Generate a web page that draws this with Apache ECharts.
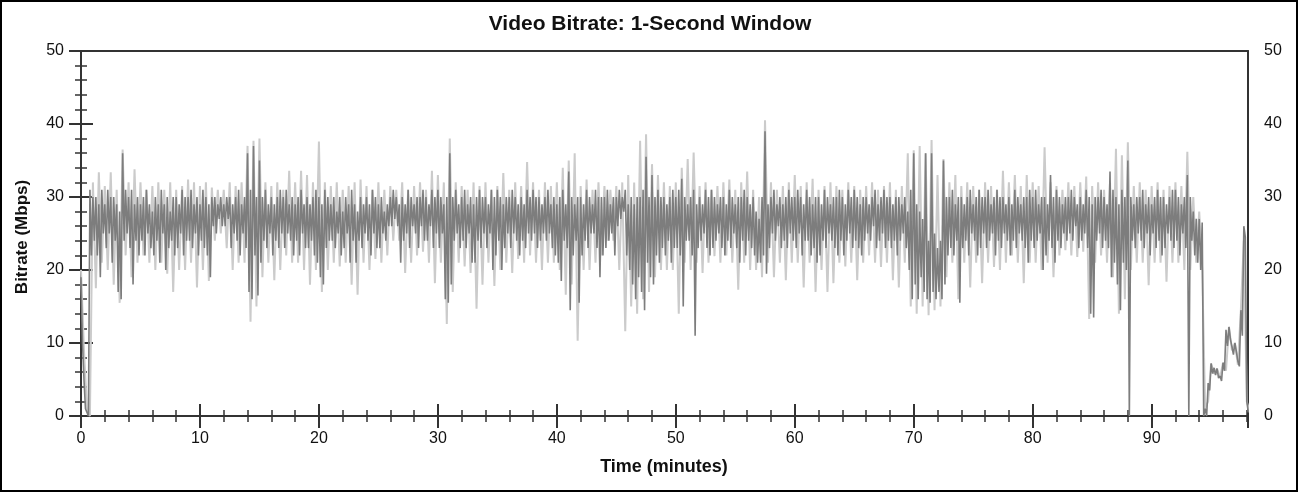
<!DOCTYPE html>
<html><head><meta charset="utf-8">
<script src="https://cdn.jsdelivr.net/npm/echarts@6/dist/echarts.min.js"></script>
<style>html,body{margin:0;padding:0;background:#fff}#chart{width:1300px;height:492px}</style>
</head><body><div id="chart"></div>
<script>
// Time step (minutes) of each array below
const darkStep = 0.25;
const lightStep = 0.5;

// Dark series: per 0.25-min bucket, upper and lower excursion (Mbps)
const darkHi = [
19,5,1,31, 30,30,29,31, 29,31,30,30, 29,28,36,31, 30,31,29,30, 29,30,31,29, 28,30,29,31, 29,30,28,30, 30,29,31,30, 30,31,29,30,
29,31,30,29, 30,30,29,30, 29,30,30,29, 30,31,29,30, 36,31,37,30, 35,30,31,29, 30,29,30,31, 30,31,29,30, 29,30,31,29, 30,29,30,31,
30,29,31,30, 29,30,28,30, 28,30,29,31, 29,28,30,29, 30,29,31,30, 29,30,28,29, 30,31,30,29, 30,29,31,30, 29,30,30,31, 30,29,31,30,
31,30,29,30, 36,30,31,29, 30,31,29,30, 29,30,31,30, 30,29,31,30, 31,30,29,30, 30,31,30,29, 30,29,31,30, 31,30,30,29, 30,31,29,30,
29,30,31,29, 33.5,30,29,30, 30,29,31,30, 29,31,30,30, 30,31,29,30, 30,31,30,31, 29,30,29,30, 30,31,35.5,30, 33,30,31,30, 30,29,30,31,
30,31,32.5,30, 29,30,31,29, 30,29,31,30, 31,30,29,30, 30,29,31,30, 29,30,30,31, 30,29,30,28, 27,30,39,29, 30,31,29,30, 29,30,31,30,
30,31,30,29, 31,30,29,30, 30,29,31,30, 29,30,30,31, 30,29,31,30, 31,30,29,30, 30,29,30,31, 29,30,31,30, 30,29,30,30, 29,30,28,31,
36,29,28,27, 36,24,36,25, 23,24,35,30, 30,31,29,30, 30,29,30,31, 29,30,31,30, 30,31,29,30, 31,30,30,29, 30,29,31,30, 29,30,30,31,
30,31,29,30, 30,29,33,30, 31,30,29,30, 30,31,30,29, 30,29,31,30, 29,30,30,31, 30,29,33.5,31, 30,29,31,30, 35,30,29,30, 30,31,29,30,
29,30,31,30, 30,29,30,31, 31,30,29,30, 33,30,28,27, 27,26.5,1,4.5, 7.2,6.6,6.5,5.5, 7.3,11.8,12.2,9.5, 10,7.5,14.5,26,
2
];
const darkLo = [
10,1,0,22, 24,22,19,25, 23,25,21,24, 17,16,24,25, 23,18,24,22, 24,22,25,23, 22,24,21,25, 20,23,24,22, 23,25,22,24, 24,23,25,22,
24,23,22,19, 26,25,27,26, 26,27,23,25, 24,22,25,23, 17,16,22,16.5, 21,24,23,25, 22,24,23,25, 23,25,24,22, 24,22,25,23, 23,24,22,21,
19,18,23,24, 24,23,25,22, 23,25,21,24, 21,24,23,25, 24,22,25,23, 23,25,24,26, 26,27,26,21, 24,25,23,26, 25,23,26,24, 24,26,23,25,
23,25,16,15.5, 18,24,25,23, 24,23,25,21, 21,24,23,25, 23,25,20,22, 24,20,23,25, 23,25,24,22, 24,23,25,24, 25,23,24,25, 24,25,23,22,
21,18.5,24,23, 14.5,22,24,15.5, 22,24,23,25, 25,23,19,22, 23,24,25,22, 26,27,28,22, 20,18,16,19, 17,14.5,21,19, 18,22,21,23, 22,24,21,23,
23,22,15,24, 24,22,11,23, 24,25,23,22, 23,24,25,23, 22,24,23,25, 23,21,24,22, 24,23,22,21, 21,22,19.5,23, 25,24,26,23, 24,23,25,24,
23,25,22,24, 24,22,23,21, 22,24,23,25, 24,23,22,24, 22,24,25,23, 24,23,22,24, 25,24,26,23, 24,25,23,24, 23,24,22,24, 25,23,20,16,
18,16,19,17, 16,15.5,17,16, 17,16,18,22, 23,22,24,15.5, 23,24,22,25, 24,22,23,25, 23,24,25,22, 24,23,25,24, 22,24,23,25, 24,23,21,24,
23,24,25,20, 22,24,23,21, 24,23,25,24, 25,24,26,23, 24,25,23,14, 13.5,24,25,23, 24,23,19,21, 18,14.5,21,20, 0,24,23,25, 24,23,25,22,
25,23,24,22, 23,25,24,23, 24,22,25,23, 0,24,22,21, 20,0,0,3.5, 5.8,5.6,5.2,4.8, 6.2,9.6,10.5,8.4, 8.8,6.8,11,24.5,
0.5
];

// Light series: per 0.5-min bucket, upper and lower excursion (Mbps)
const lightHi = [
20,1,32,33.4,31.5,33.4,31,36.5,32,33.8, 32,31,31.5,32,31,32,31,31.5,32.4,32,
31.5,32,31.3,31,31,32,31.5,32,37,37.7, 38,32,31.5,32,31,33.6,32,33.6,33,32,
37.6,32,31.5,32,31,31.5,32,32.4,31.5,31, 32,31,31.5,31,32,31,31.5,32,31,33.6,
33,32,38,32,31.5,31,32,31.5,32,31, 31.5,33.3,31,32,31.5,34.8,32,31,32,31.5,
32,34,35,36,31.5,32.4,31,32,31.5,31, 31.5,32,33,32,37.7,38.6,34.5,33,32,31.5,
32,34,35.2,36.1,31.5,32,31,31.5,32,32.4, 31,32,33.5,31,30,40.5,32,31,31.5,32,
33,31.5,32,32.5,31,31.5,32,31.5,31,32, 31.5,31,31.5,32,31,31.5,32,31,31.5,36,
36.4,37,36,37.8,33,35.2,32,33,31.5,32, 31.5,31,32,31.5,31,33.6,32,33,31.5,33,
32,31.5,36.8,32,31.5,31,32,31.5,32,32.8, 31.5,32,31,32,36.6,35.7,37.5,31.5,32,31,
31.5,32,31,31.5,32,31.5,36.2,30,28,1, 7.2,6.5,7.3,12.2,10,14.5,2
];
const lightLo = [
9,0,17.5,21,20,18,15.5,22,19,21, 22,21,20,21,19.5,17,20,20,21,17.6,
20,18.5,24,25,23,20,21,21,12.9,15, 19,21,18.6,20,22,21,21,20,18,20,
17,20,21,20.5,21,18,16.6,21,20,21.5, 21,22,24,24,19.6,21,22,22.5,21,18.2,
21,12.6,17,21,20.5,19.6,14.7,18,21,17.8, 20,21,19.6,21.5,21,22,21,20,21,21,
20,16.6,18,10.3,20,20,21,22,24,24, 20,11.6,15,14,16,17,19,20,20,20,
14,21,20,21,19.6,21,21.9,21,22,21, 17.3,21,20,20,19,21,19,21,18.6,21,
21,17.6,21,17,20,17,18.2,21,20.5,21, 18.6,21,22,21,20.4,21,18.6,17.6,21,15,
14,15,13.8,14.5,15,19,21,16,21,17.6, 21,18.2,21,20.4,20,21,22,21,18.2,21,
21,20,21,19,22,22.7,22,21.8,22.5,13.3, 21,22,21,19,14,16,20,21,21,17.9,
21,21,18.4,21,21,20,20,21,20,2, 5.8,5.2,6.2,9,7,24,0.5
];

const xMax = 98.1;
const yMax = 50;

function zigzag(hi, lo, step) {
  const out = [];
  for (let i = 0; i < hi.length; i++) {
    const t = i * step;
    out.push([t, hi[i]]);
    out.push([t + step / 2, lo[i]]);
  }
  return out;
}

const FONT = 'Liberation Sans, Arial, sans-serif';
const AX = '#333';

function xAx(pos, opts) {
  return Object.assign({
    type: 'value', position: pos, min: 0, max: xMax, interval: 10,
    axisLine: { show: false }, axisTick: { show: false }, axisLabel: { show: false },
    splitLine: { show: false }
  }, opts);
}
function yAx(pos, opts) {
  return Object.assign({
    type: 'value', position: pos, min: 0, max: yMax, interval: 10,
    axisLine: { show: false }, axisTick: { show: false }, axisLabel: { show: false },
    splitLine: { show: false }
  }, opts);
}
const majTick = { show: true, inside: true, length: 12, lineStyle: { color: AX, width: 2 } };
const minTick = { show: true, inside: true, length: 6, lineStyle: { color: AX, width: 1.5 } };
const line = { show: true, onZero: false, lineStyle: { color: AX, width: 2 } };
const lbl = { show: true, fontSize: 16, color: '#111', fontFamily: FONT };

const chart = echarts.init(document.getElementById('chart'), null, { renderer: 'canvas' });
chart.setOption({
  animation: false,
  backgroundColor: '#fff',
  title: {
    text: 'Video Bitrate: 1-Second Window', left: 'center', top: 9,
    textStyle: { fontSize: 21, fontWeight: 'bold', color: '#111', fontFamily: FONT }
  },
  grid: { left: 81, right: 52, top: 51, bottom: 76 },
  xAxis: [
    xAx('bottom', { axisLine: line, axisLabel: Object.assign({ margin: 15, showMaxLabel: false }, lbl) }),
    xAx('bottom', { offset: 6, axisTick: majTick }),
    xAx('bottom', { offset: 3, interval: 2, axisTick: minTick }),
    xAx('top', { axisLine: line }),
    xAx('top', { offset: 6, axisTick: majTick }),
    xAx('top', { offset: 3, interval: 2, axisTick: minTick })
  ],
  yAxis: [
    yAx('left', { axisLine: line, axisLabel: Object.assign({ margin: 17 }, lbl) }),
    yAx('left', { offset: 6, axisTick: majTick }),
    yAx('left', { offset: 3, interval: 2, axisTick: minTick }),
    yAx('right', { axisLine: line, axisLabel: Object.assign({ margin: 16 }, lbl) }),
    yAx('right', { offset: 6, axisTick: majTick }),
    yAx('right', { offset: 3, interval: 2, axisTick: minTick })
  ],
  series: [
    {
      type: 'line', name: 'light', xAxisIndex: 0, yAxisIndex: 0,
      data: zigzag(lightHi, lightLo, lightStep),
      symbol: 'none', showSymbol: false, silent: true, z: 1,
      lineStyle: { color: '#cbcbcb', width: 2 }
    },
    {
      type: 'line', name: 'dark', xAxisIndex: 0, yAxisIndex: 0,
      data: zigzag(darkHi, darkLo, darkStep),
      symbol: 'none', showSymbol: false, silent: true, z: 2,
      lineStyle: { color: '#7d7d7d', width: 1.6 }
    }
  ],
  graphic: [
    { type: 'text', x: 664, y: 467, silent: true,
      style: { text: 'Time (minutes)', font: 'bold 18px ' + FONT, fill: '#111', align: 'center', verticalAlign: 'middle' } },
    { type: 'text', x: 22, y: 237, rotation: Math.PI / 2, silent: true,
      style: { text: 'Bitrate (Mbps)', font: 'bold 17px ' + FONT, fill: '#111', align: 'center', verticalAlign: 'middle' } },
    { type: 'rect', silent: true, z: 100,
      shape: { x: 1, y: 1, width: 1296, height: 490 },
      style: { fill: null, stroke: '#000', lineWidth: 2 } }
  ]
});
</script>
</body></html>
